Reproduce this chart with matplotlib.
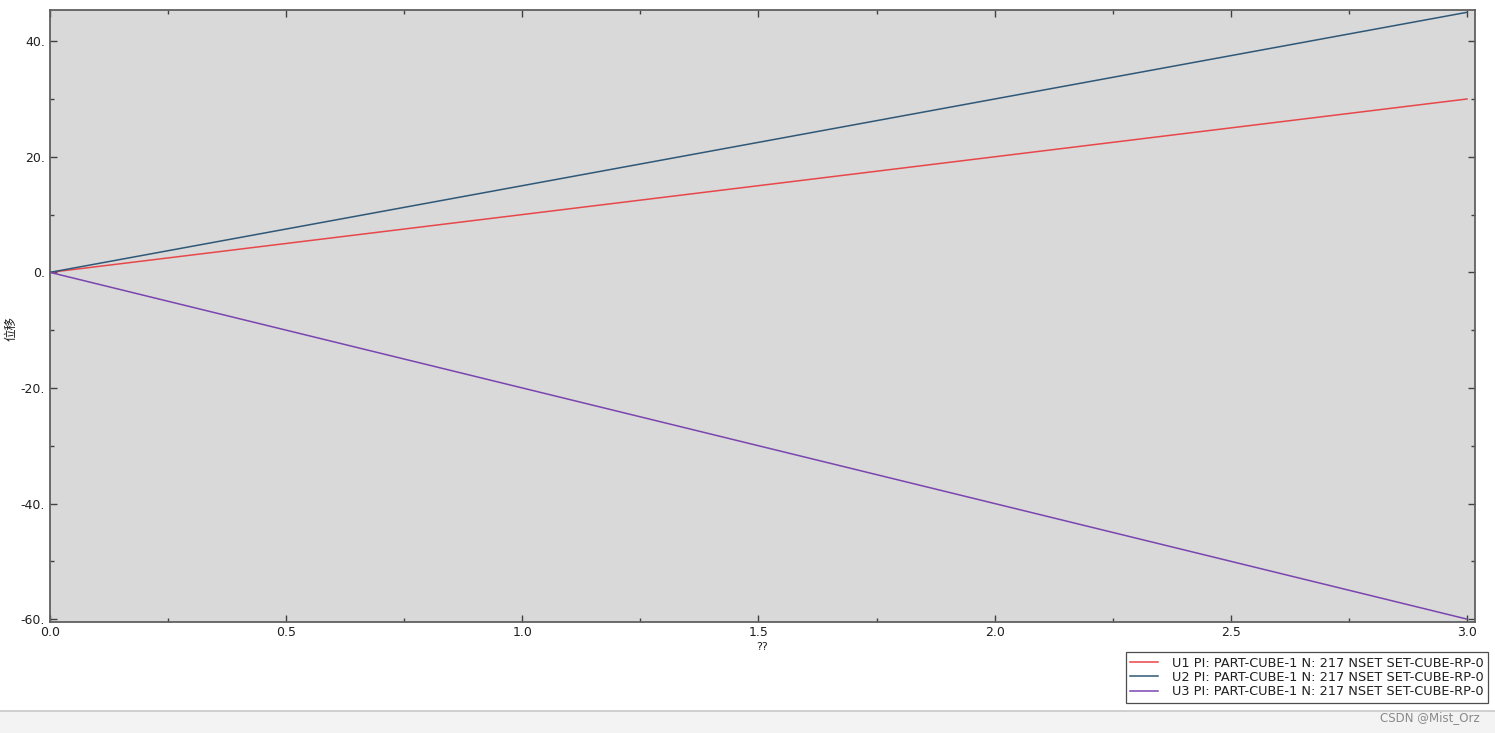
import matplotlib
matplotlib.use("Agg")
import matplotlib.pyplot as plt
from matplotlib.ticker import MultipleLocator, FuncFormatter
from matplotlib.patches import Rectangle
from matplotlib.lines import Line2D

plt.rcParams['font.family'] = ['DejaVu Sans', 'Noto Sans CJK SC']

# Data
time = [0.0, 0.5, 1.0, 1.5, 2.0, 2.5, 3.0]
u1 = [0.0, 5.0, 10.0, 15.0, 20.0, 25.0, 30.0]
u2 = [0.0, 7.5, 15.0, 22.5, 30.0, 37.5, 45.0]
u3 = [0.0, -10.0, -20.0, -30.0, -40.0, -50.0, -60.0]
labels = [
    "U1 PI: PART-CUBE-1 N: 217 NSET SET-CUBE-RP-0",
    "U2 PI: PART-CUBE-1 N: 217 NSET SET-CUBE-RP-0",
    "U3 PI: PART-CUBE-1 N: 217 NSET SET-CUBE-RP-0",
]
colors = ["#e8474a", "#2f5878", "#7a45b0"]
xlabel = "??"
ylabel = "位移"

fig = plt.figure(figsize=(14.95, 7.33), dpi=100)
fig.patch.set_facecolor("white")

# bottom screenshot band
fig.patches.append(Rectangle((0, 0), 1, 22 / 733, transform=fig.transFigure,
                             facecolor="#f3f3f3", edgecolor="none", zorder=0))
fig.lines.append(Line2D([0, 1], [22 / 733, 22 / 733], transform=fig.transFigure,
                        color="#c8c8c8", lw=1.2))

ax = fig.add_axes([50 / 1495, 1 - 622 / 733, 1425 / 1495, 612 / 733])
ax.set_facecolor("#d9d9d9")

for y, c, lab in zip([u1, u2, u3], colors, labels):
    ax.plot(time, y, color=c, lw=1.1, label=lab)

ax.set_xlim(0, 3.017)
ax.set_ylim(-60.5, 45.4)

ax.xaxis.set_major_locator(MultipleLocator(0.5))
ax.xaxis.set_minor_locator(MultipleLocator(0.25))
ax.yaxis.set_major_locator(MultipleLocator(20))
ax.yaxis.set_minor_locator(MultipleLocator(10))
ax.xaxis.set_major_formatter(FuncFormatter(lambda v, p: f"{v:.1f}"))
ax.yaxis.set_major_formatter(FuncFormatter(lambda v, p: f"{int(round(v))}."))

ax.tick_params(which="both", direction="in", top=True, right=True,
               color="#404040", labelsize=9, labelcolor="#202020")
ax.tick_params(which="major", length=5, width=1)
ax.tick_params(which="minor", length=3, width=1)
ax.tick_params(axis="x", pad=3)

for s in ax.spines.values():
    s.set_color("#606060")
    s.set_linewidth(1.3)

ax.set_xlabel(xlabel, fontsize=8, color="#202020", labelpad=2)
ax.set_ylabel(ylabel, fontsize=9, color="#202020", family=['Noto Sans CJK SC', 'DejaVu Sans'],
              labelpad=2)
ax.yaxis.set_label_coords(-0.0225, 0.48)

leg = ax.legend(loc="upper right", bbox_to_anchor=(1488 / 1495, 1 - 652 / 733),
                bbox_transform=fig.transFigure, frameon=True, fancybox=False,
                fontsize=9.3, handlelength=2.1, borderpad=0.35, labelspacing=0.1,
                handletextpad=1.1, borderaxespad=0)
leg.get_frame().set_edgecolor("#202020")
leg.get_frame().set_linewidth(0.9)
for t in leg.get_texts():
    t.set_color("#202020")

fig.text(1480 / 1495, 1 - 718 / 733, "CSDN @Mist_Orz", ha="right", va="center",
         fontsize=8.5, color="#8a8a8a")

fig.savefig("out.png", dpi=100)
